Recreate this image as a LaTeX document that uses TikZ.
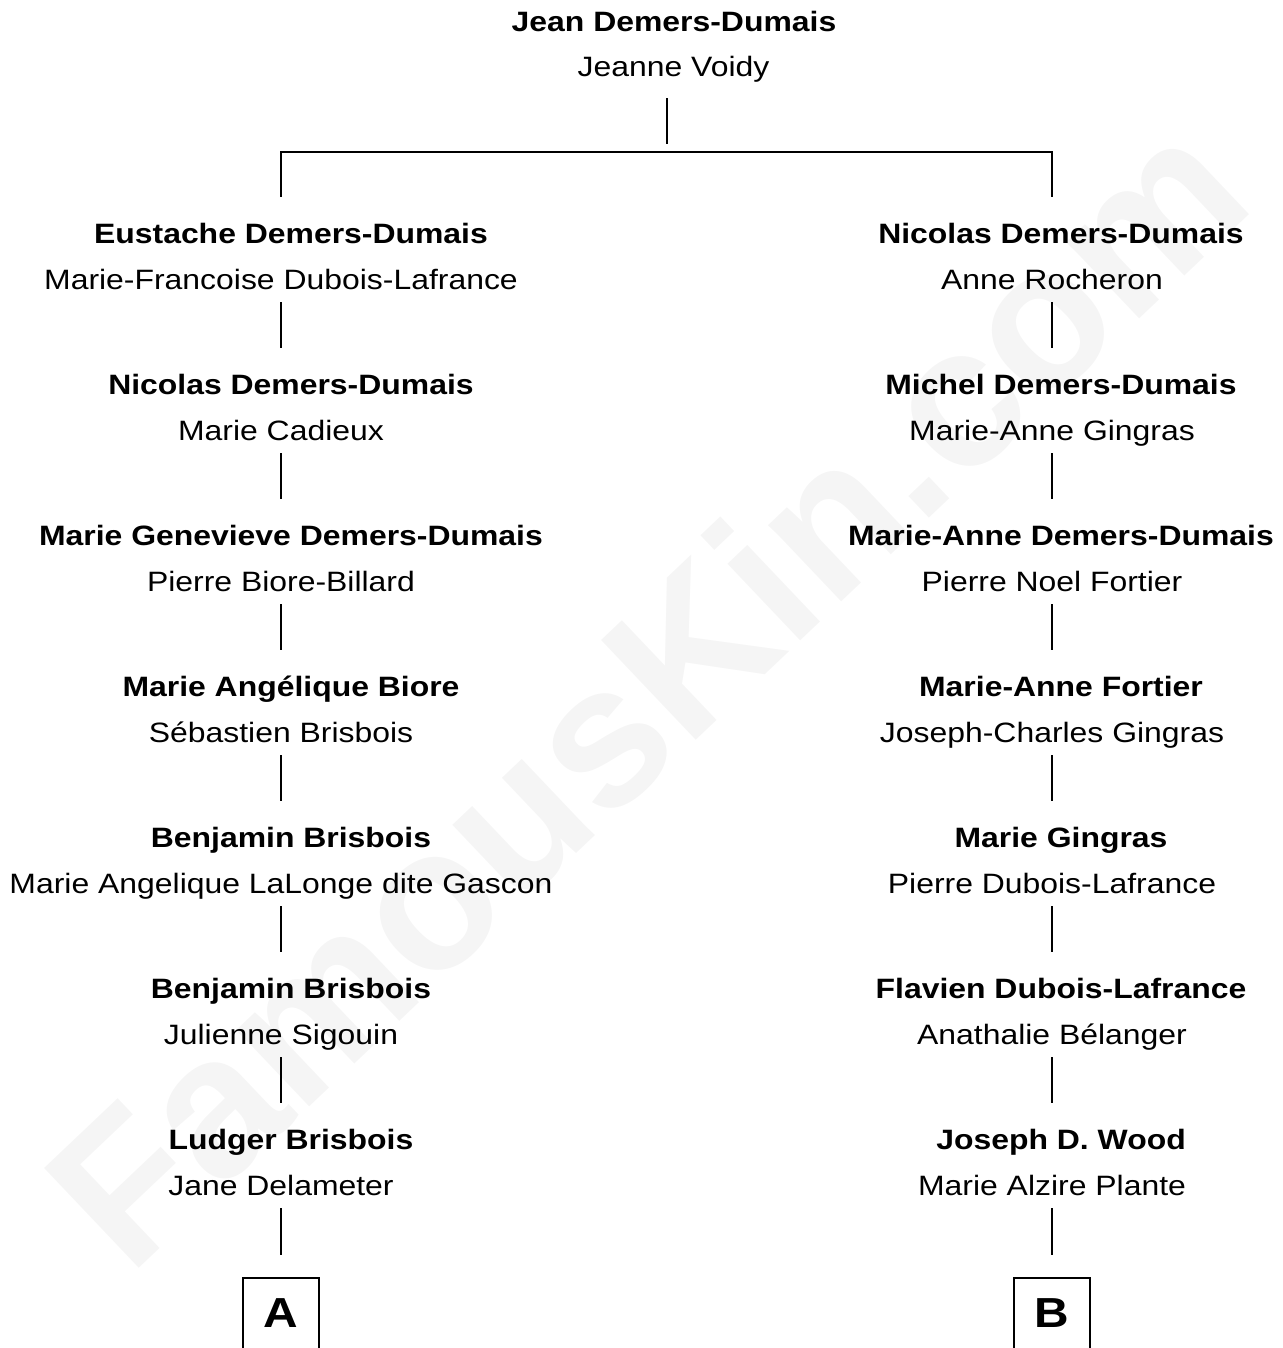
\documentclass[tikz,border=0pt]{standalone}
\usepackage{fontspec}
\setmainfont{Liberation Sans}[FakeStretch=1.14]
\newfontfamily\markfont{Liberation Sans}
\usetikzlibrary{positioning}

\begin{document}
\begin{tikzpicture}[
  x=0.5pt,y=-0.5pt,
  person/.style={anchor=base, inner sep=0pt, text height=23pt,
    font=\fontsize{14}{16}\selectfont\bfseries},
  mate/.style={anchor=base, inner sep=0pt, text depth=6.5pt,
    font=\fontsize{14}{16}\selectfont},
  link/.style={line width=0.6pt},
  branch/.style={draw, line width=0.6pt, anchor=north, inner sep=0pt,
    minimum width=38pt, minimum height=50pt, text depth=15pt, outer sep=11.5pt,
    font=\fontsize{21}{24}\selectfont\bfseries}]
  \useasboundingbox (0,0) rectangle (1282,1348);

  % watermark
  \node[rotate=43.5, text=black!4,
    font=\markfont\fontsize{100}{100}\selectfont\bfseries] (mark) at (645,690) {FamousKin.com};

  \node[person] (jn) at (674,32) {Jean Demers-Dumais};
  \node[mate] (jv) at (673.5,77) {Jeanne Voidy};

  % left line
  \node[person] (l1) at (291,243) {Eustache Demers-Dumais};
  \node[mate] (l1s) at (281,289) {Marie-Francoise Dubois-Lafrance};
  \node[person] (l2) at (291,394) {Nicolas Demers-Dumais};
  \node[mate] (l2s) at (281,440) {Marie Cadieux};
  \node[person] (l3) at (291,545) {Marie Genevieve Demers-Dumais};
  \node[mate] (l3s) at (281,591) {Pierre Biore-Billard};
  \node[person] (l4) at (291,696) {Marie Angélique Biore};
  \node[mate] (l4s) at (281,742) {Sébastien Brisbois};
  \node[person] (l5) at (291,847) {Benjamin Brisbois};
  \node[mate] (l5s) at (281,893) {Marie Angelique LaLonge dite Gascon};
  \node[person] (l6) at (291,998) {Benjamin Brisbois};
  \node[mate] (l6s) at (281,1044) {Julienne Sigouin};
  \node[person] (l7) at (291,1149) {Ludger Brisbois};
  \node[mate] (l7s) at (281,1195) {Jane Delameter};
  \node[branch] (a) at (281,1255) {A};

  % right line
  \node[person] (r1) at (1061,243) {Nicolas Demers-Dumais};
  \node[mate] (r1s) at (1052,289) {Anne Rocheron};
  \node[person] (r2) at (1061,394) {Michel Demers-Dumais};
  \node[mate] (r2s) at (1052,440) {Marie-Anne Gingras};
  \node[person] (r3) at (1061,545) {Marie-Anne Demers-Dumais};
  \node[mate] (r3s) at (1052,591) {Pierre Noel Fortier};
  \node[person] (r4) at (1061,696) {Marie-Anne Fortier};
  \node[mate] (r4s) at (1052,742) {Joseph-Charles Gingras};
  \node[person] (r5) at (1061,847) {Marie Gingras};
  \node[mate] (r5s) at (1052,893) {Pierre Dubois-Lafrance};
  \node[person] (r6) at (1061,998) {Flavien Dubois-Lafrance};
  \node[mate] (r6s) at (1052,1044) {Anathalie Bélanger};
  \node[person] (r7) at (1061,1149) {Joseph D. Wood};
  \node[mate] (r7s) at (1052,1195) {Marie Alzire Plante};
  \node[branch] (b) at (1052,1255) {B};

  \coordinate (t) at (667,144);
  \coordinate (bl) at (281,152);
  \coordinate (br) at (1052,152);
  \draw[link, shorten <=4pt] (jv.south -| t) -- (t);
  \draw[link] (l1.north -| bl) -- (bl) -- (br) -- (r1.north -| br);

  \draw[link] (l1s.south) -- (l1s.south |- l2.north);
  \draw[link] (l2s.south) -- (l2s.south |- l3.north);
  \draw[link] (l3s.south) -- (l3s.south |- l4.north);
  \draw[link] (l4s.south) -- (l4s.south |- l5.north);
  \draw[link] (l5s.south) -- (l5s.south |- l6.north);
  \draw[link] (l6s.south) -- (l6s.south |- l7.north);
  \draw[link] (l7s.south) -- (a.north);

  \draw[link] (r1s.south) -- (r1s.south |- r2.north);
  \draw[link] (r2s.south) -- (r2s.south |- r3.north);
  \draw[link] (r3s.south) -- (r3s.south |- r4.north);
  \draw[link] (r4s.south) -- (r4s.south |- r5.north);
  \draw[link] (r5s.south) -- (r5s.south |- r6.north);
  \draw[link] (r6s.south) -- (r6s.south |- r7.north);
  \draw[link] (r7s.south) -- (b.north);
\end{tikzpicture}
\end{document}
